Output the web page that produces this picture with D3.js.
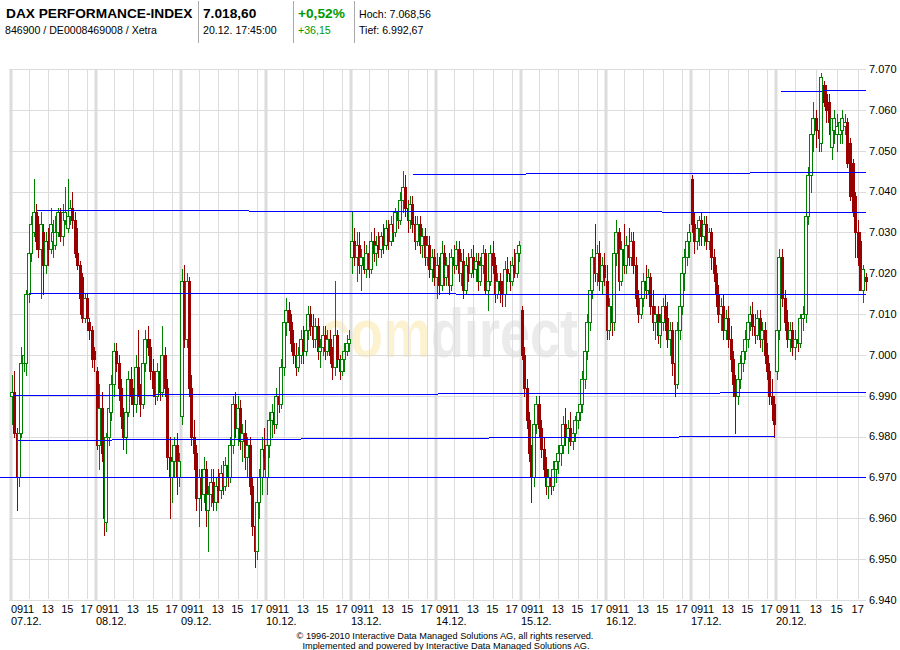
<!DOCTYPE html>
<html><head><meta charset="utf-8">
<script src="https://cdn.jsdelivr.net/npm/d3@7"></script>
<style>
body{margin:0;background:#fff}
svg{display:block}
text{font-family:"Liberation Sans",Arial,sans-serif}
</style>
</head><body>
<svg id="chart" width="900" height="650"></svg>
<script>
// ---------- data ----------
const days = ["07.12.","08.12.","09.12.","10.12.","13.12.","14.12.","15.12.","16.12.","17.12.","20.12."];
const hourLabels = ["09","11","13","15","17"];
const hourOffsets = [0,2,4,6,8];           // hours after 09:00
const yTicks = [6940,6950,6960,6970,6980,6990,7000,7010,7020,7030,7040,7050,7060,7070];
const slotsPerDay = 35;                    // 15-minute candles 09:00-17:45
const hoursPerDay = 8.75;

// candles per day: [open, high, low, close]
const d0712 = [[6990,6995,6983,6991],[6991,6996,6980,6981],[6981,6982,6962,6970],[6970,6983,6968,6981],[6981,7002,6980,6998],[6998,7004,6996,7000],[6998,7016,6995,7015],[7015,7026,7013,7025],[7025,7034,7023,7032],[7030,7043,7029,7035],[7035,7037,7026,7028],[7028,7034,7024,7026],[7026,7035,7014,7032],[7030,7032,7015,7022],[7022,7030,7020,7028],[7028,7031,7022,7026],[7026,7036,7025,7032],[7028,7033,7024,7030],[7027,7034,7026,7030],[7030,7036,7029,7035],[7035,7036,7028,7029],[7029,7037,7027,7035],[7033,7041,7032,7035],[7031,7043,7030,7034],[7034,7038,7032,7036],[7036,7040,7031,7033],[7033,7035,7024,7025],[7025,7031,7021,7022],[7022,7023,7010,7014],[7019,7020,7008,7009],[7009,7015,7008,7014],[7014,7015,7006,7009],[7008,7009,7004,7006],[7006,7007,6997,6999],[7001,7002,6996,6999]];
const d0812 = [[6996,6997,6977,6978],[6978,6993,6972,6987],[6987,6991,6974,6976],[6976,6977,6956,6960],[6959,6981,6957,6980],[6980,6988,6978,6987],[6986,6995,6984,6993],[6993,7003,6990,7001],[7001,7003,6996,6998],[6998,7000,6989,6992],[6992,6994,6982,6985],[6985,6987,6977,6980],[6980,6988,6976,6986],[6986,6996,6985,6994],[6994,6997,6988,6990],[6990,6992,6985,6988],[6988,7000,6986,6997],[6997,7006,6990,6992],[6992,6993,6985,6988],[6988,7000,6987,6998],[6998,7006,6996,7004],[7004,7007,7000,7002],[7002,7004,6994,6996],[6996,6999,6990,6992],[6992,6996,6988,6990],[6990,6998,6989,6996],[6996,6998,6989,6991],[6991,7007,6990,7000],[7000,7002,6990,6992],[6992,6994,6972,6975],[6975,6980,6960,6970],[6970,6976,6964,6974],[6974,6980,6970,6978],[6978,6981,6966,6970],[6970,6976,6968,6974]];
const d0912 = [[6985,7021,6983,7018],[7018,7022,7002,7004],[7004,7020,7002,7018],[7018,7019,6990,6992],[6992,6995,6978,6980],[6980,6984,6972,6976],[6976,6978,6962,6965],[6965,6972,6958,6970],[6970,6972,6962,6966],[6966,6975,6964,6972],[6972,6974,6958,6962],[6962,6968,6952,6966],[6966,6972,6963,6969],[6969,6972,6962,6964],[6964,6970,6962,6968],[6968,6972,6964,6967],[6967,6973,6965,6971],[6971,6974,6966,6968],[6968,6975,6967,6973],[6973,6976,6968,6970],[6970,6980,6969,6978],[6978,6990,6976,6988],[6988,6991,6980,6982],[6982,6990,6978,6987],[6987,6989,6977,6979],[6979,6983,6974,6981],[6981,6984,6972,6975],[6975,6980,6970,6978],[6978,6980,6966,6968],[6968,6970,6956,6958],[6958,6962,6948,6952],[6952,6966,6950,6964],[6964,6972,6960,6970],[6970,6980,6966,6977],[6977,6982,6972,6975]];
const d1012 = [[6970,6980,6966,6978],[6978,6986,6975,6984],[6984,6988,6980,6986],[6986,6989,6981,6983],[6983,6992,6982,6990],[6990,6994,6986,6988],[6988,6999,6987,6997],[6997,7010,6995,7008],[7008,7014,7005,7011],[7011,7013,7006,7008],[7008,7010,7001,7003],[7003,7006,6998,7000],[7000,7003,6995,6997],[6997,7002,6996,7000],[7000,7006,6998,7004],[7004,7007,6998,7001],[7001,7008,7000,7006],[7006,7012,7004,7010],[7010,7012,7005,7007],[7007,7010,7002,7004],[7004,7009,7002,7007],[7007,7009,6999,7001],[7001,7004,6997,7002],[7002,7007,7000,7005],[7005,7007,6999,7001],[7001,7006,7000,7004],[7004,7006,6998,7000],[7000,7002,6994,6997],[6997,7018,6995,7005],[7005,7006,6997,6999],[6999,7000,6994,6996],[6996,7000,6995,6999],[6999,7003,6996,7001],[7001,7005,7000,7003],[7003,7006,7001,7004]];
const d1312 = [[7024,7035,7020,7028],[7028,7031,7022,7024],[7024,7030,7018,7027],[7027,7030,7020,7022],[7022,7026,7016,7024],[7024,7028,7020,7021],[7021,7027,7019,7025],[7025,7028,7019,7021],[7021,7030,7020,7028],[7028,7031,7023,7025],[7025,7029,7022,7027],[7027,7030,7024,7026],[7026,7030,7024,7029],[7029,7032,7025,7027],[7027,7033,7026,7031],[7031,7033,7026,7028],[7028,7034,7027,7032],[7032,7035,7028,7030],[7030,7036,7029,7035],[7035,7038,7031,7033],[7033,7040,7032,7038],[7038,7045,7035,7041],[7041,7044,7034,7036],[7036,7038,7030,7033],[7033,7039,7031,7037],[7037,7039,7030,7032],[7032,7034,7026,7028],[7028,7034,7027,7032],[7032,7034,7025,7027],[7027,7031,7024,7029],[7029,7031,7022,7024],[7024,7029,7022,7027],[7027,7029,7019,7021],[7021,7026,7018,7024],[7024,7026,7017,7019]];
const d1412 = [[7019,7025,7014,7022],[7022,7024,7015,7017],[7017,7028,7016,7025],[7025,7027,7017,7019],[7019,7024,7017,7022],[7022,7025,7015,7017],[7017,7026,7016,7024],[7024,7027,7020,7022],[7022,7028,7021,7026],[7026,7028,7018,7020],[7020,7025,7017,7023],[7023,7026,7014,7016],[7016,7024,7015,7022],[7022,7025,7018,7020],[7020,7026,7019,7024],[7024,7027,7019,7021],[7021,7025,7018,7023],[7023,7025,7016,7018],[7018,7024,7017,7022],[7022,7027,7020,7025],[7025,7026,7015,7016],[7016,7020,7011,7018],[7018,7027,7017,7025],[7025,7028,7020,7022],[7022,7024,7013,7015],[7015,7020,7014,7018],[7018,7020,7013,7016],[7016,7018,7012,7015],[7015,7023,7012,7021],[7021,7024,7018,7020],[7020,7023,7016,7018],[7018,7024,7017,7022],[7022,7026,7019,7020],[7020,7027,7019,7025],[7025,7028,7023,7027]];
const d1512 = [[7011,7012,6999,7000],[7000,7002,6990,6992],[6992,6994,6982,6984],[6984,6986,6974,6976],[6976,6978,6964,6970],[6970,6985,6968,6983],[6983,6990,6981,6988],[6988,6990,6980,6982],[6982,6984,6975,6977],[6977,6980,6970,6972],[6972,6975,6966,6968],[6968,6972,6965,6970],[6970,6972,6966,6968],[6968,6974,6967,6972],[6972,6976,6969,6974],[6974,6978,6971,6976],[6976,6980,6973,6978],[6978,6985,6976,6983],[6983,6987,6978,6980],[6980,6984,6976,6982],[6982,6986,6978,6979],[6979,6983,6977,6981],[6981,6985,6979,6984],[6984,6988,6982,6986],[6986,6990,6984,6988],[6988,6996,6986,6994],[6994,7003,6992,7001],[7001,7010,6999,7008],[7008,7018,7006,7016],[7016,7026,7014,7024],[7024,7032,7018,7020],[7020,7027,7017,7025],[7025,7028,7016,7018],[7018,7024,7015,7022],[7022,7025,7017,7019]];
const d1612 = [[7018,7022,7004,7006],[7006,7014,7004,7012],[7012,7015,7005,7008],[7008,7028,7006,7025],[7025,7033,7022,7030],[7030,7031,7016,7018],[7018,7028,7017,7026],[7026,7032,7020,7022],[7022,7029,7020,7027],[7027,7031,7022,7024],[7024,7030,7022,7028],[7028,7030,7020,7022],[7022,7024,7012,7014],[7014,7016,7008,7010],[7010,7016,7009,7014],[7014,7020,7012,7018],[7018,7022,7014,7016],[7016,7021,7015,7019],[7019,7020,7010,7012],[7012,7016,7006,7008],[7008,7012,7004,7010],[7010,7012,7003,7005],[7005,7010,7002,7008],[7008,7014,7006,7012],[7012,7015,7006,7009],[7009,7013,7002,7004],[7004,7008,7000,7006],[7006,7008,6995,6998],[6998,7000,6990,6993],[6993,7008,6992,7006],[7006,7015,7004,7012],[7012,7022,7010,7020],[7020,7026,7016,7024],[7024,7030,7022,7028],[7028,7032,7024,7030]];
const d1712 = [[7043,7044,7030,7032],[7032,7035,7025,7028],[7028,7033,7026,7031],[7031,7034,7027,7033],[7033,7035,7027,7029],[7029,7034,7027,7032],[7032,7034,7026,7028],[7028,7031,7026,7030],[7030,7031,7021,7024],[7024,7026,7018,7020],[7020,7022,7012,7015],[7015,7017,7008,7010],[7010,7014,7006,7012],[7012,7015,7004,7006],[7006,7011,7004,7009],[7009,7012,7002,7004],[7004,7007,6996,6999],[6999,7001,6990,6993],[6993,6995,6981,6990],[6990,6996,6988,6994],[6994,7000,6992,6998],[6998,7003,6996,7001],[7001,7006,6999,7004],[7004,7010,7002,7008],[7008,7012,7006,7010],[7010,7013,7005,7007],[7007,7010,7003,7005],[7005,7011,7004,7009],[7009,7011,7002,7004],[7004,7008,7001,7006],[7006,7008,6998,7000],[7000,7003,6994,6996],[6996,6998,6988,6990],[6990,6994,6984,6988],[6988,6990,6980,6983]];
const d2012 = [[6996,7010,6994,7006],[7006,7026,7004,7024],[7024,7026,7012,7014],[7014,7016,7006,7008],[7008,7011,7002,7004],[7004,7008,7001,7006],[7006,7008,7000,7002],[7002,7006,6999,7004],[7004,7006,7001,7003],[7003,7010,7002,7009],[7009,7012,7006,7010],[7010,7036,7008,7034],[7034,7046,7032,7044],[7044,7058,7040,7054],[7054,7062,7050,7058],[7058,7060,7051,7055],[7055,7060,7050,7053],[7052,7069,7050,7068],[7066,7067,7061,7062],[7064,7066,7057,7060],[7062,7064,7054,7057],[7051,7058,7048,7058],[7055,7060,7052,7058],[7054,7059,7050,7056],[7054,7058,7052,7057],[7055,7060,7052,7058],[7056,7059,7054,7057],[7057,7058,7046,7047],[7052,7053,7038,7039],[7047,7048,7034,7035],[7039,7040,7024,7030],[7030,7033,7022,7024],[7028,7030,7016,7016],[7016,7022,7013,7021],[7019,7020,7016,7018]];
const allDays = [d0712,d0812,d0912,d1012,d1312,d1412,d1512,d1612,d1712,d2012];

// support / resistance lines: [startSlot, endSlot, startPrice, endPrice]
const levels = [
  [317.1, 350, 7064.5, 7064.8],
  [165.7, 350, 7044.3, 7044.9],
  [10.9, 350, 7035.4, 7034.9],
  [7.6, 350, 7015.1, 7014.8],
  [1.4, 350, 6990.3, 6991.0],
  [3.1, 315, 6979.1, 6980.2],
  [-4.3, 350, 6970.0, 6970.1]
];

// watermark
const wmText = "comdirect";

// header values
const title = "DAX PERFORMANCE-INDEX";
const subtitle = "846900 / DE0008469008 / Xetra";
const lastPrice = "7.018,60";
const lastTime = "20.12. 17:45:00";
const changePct = "+0,52%";
const changeAbs = "+36,15";
const highText = "Hoch: 7.068,56";
const lowText = "Tief: 6.992,67";

// ---------- drawing ----------
const svg = d3.select("#chart");
const green = "#008000", red = "#990000", grid = "#dcdcdc";
const de = d3.formatLocale({decimal:",", thousands:".", grouping:[3], currency:["","€"]});
const fmt = de.format(",d");

// day boundaries (last day is drawn a little wider, as in the original)
const dayDomain = d3.range(days.length + 1).map(i => i * slotsPerDay);
const dayRange = d3.range(days.length).map(i => 10.5 + i * 85).concat([867]);
const x = d3.scaleLinear().domain(dayDomain).range(dayRange);
const y = d3.scaleLinear().domain([6940, 7070]).range([600, 69]);
const plotLeft = 9, plotRight = 866;
const slotsPerHour = slotsPerDay / hoursPerDay;

// watermark: one text, two tints via a hard-stop gradient
const defs = svg.append("defs");
const grad = defs.append("linearGradient").attr("id", "wmGrad")
  .attr("gradientUnits", "userSpaceOnUse").attr("x1", 320).attr("x2", 578).attr("y1", 0).attr("y2", 0);
grad.append("stop").attr("offset", 0.42).attr("stop-color", "#fcf2cf");
grad.append("stop").attr("offset", 0.42).attr("stop-color", "#ebebeb");
svg.append("text").attr("x", 320).attr("y", 357)
  .attr("font-size", 68).attr("font-weight", "bold").attr("fill", "url(#wmGrad)")
  .attr("textLength", 258).attr("lengthAdjust", "spacingAndGlyphs").text(wmText);

// horizontal grid
svg.append("g").selectAll("line").data(yTicks).join("line")
  .attr("x1", plotLeft).attr("x2", plotRight)
  .attr("y1", d => Math.round(y(d)) + 0.5).attr("y2", d => Math.round(y(d)) + 0.5)
  .attr("stroke", grid).attr("stroke-width", 1);

// vertical grid: thin hour lines and thick day lines
const vg = svg.append("g");
days.forEach((d, di) => {
  hourOffsets.forEach((h, hi) => {
    const xp = x(di * slotsPerDay + h * slotsPerHour);
    if (hi === 0) {
      vg.append("rect").attr("x", Math.round(xp) - 1.5).attr("y", 69).attr("width", 3).attr("height", 531).attr("fill", grid);
    } else {
      vg.append("line").attr("x1", Math.round(xp) - 0.5).attr("x2", Math.round(xp) - 0.5)
        .attr("y1", 69).attr("y2", 599).attr("stroke", grid);
    }
  });
});

// candles
const candles = [];
allDays.forEach((arr, di) => arr.forEach((c, i) => candles.push({
  slot: di * slotsPerDay + i + 0.5, o: c[0], h: c[1], l: c[2], c: c[3]
})));
const cg = svg.append("g").attr("shape-rendering", "crispEdges");
candles.forEach(k => {
  const cx = Math.round(x(k.slot));
  const up = k.c >= k.o;
  const col = up ? green : red;
  cg.append("line").attr("x1", cx + 0.5).attr("x2", cx + 0.5)
    .attr("y1", Math.round(y(k.h))).attr("y2", Math.round(y(k.l)) + 1).attr("stroke", col);
  const top = Math.round(y(Math.max(k.o, k.c))), bot = Math.round(y(Math.min(k.o, k.c)));
  if (up) {
    cg.append("rect").attr("x", cx - 1.5).attr("y", top + 0.5)
      .attr("width", 3).attr("height", Math.max(1, bot - top))
      .attr("fill", "#fff").attr("stroke", col);
  } else {
    cg.append("rect").attr("x", cx - 1).attr("y", top)
      .attr("width", 3).attr("height", Math.max(1, bot - top + 1))
      .attr("fill", col);
  }
});

// level lines
svg.append("g").attr("shape-rendering", "crispEdges").selectAll("line").data(levels).join("line")
  .attr("x1", d => Math.max(0, x(d[0]))).attr("x2", d => Math.min(plotRight, x(d[1])))
  .attr("y1", d => Math.round(y(d[2])) + 0.5).attr("y2", d => Math.round(y(d[3])) + 0.5)
  .attr("stroke", "#0000ff").attr("stroke-width", 1);

// y axis labels
svg.append("g").selectAll("text").data(yTicks).join("text")
  .attr("x", 869).attr("y", d => y(d)).attr("dy", "0.35em")
  .attr("font-size", 11).attr("fill", "#000").text(d => fmt(d));

// x axis labels
const xa = svg.append("g").attr("font-size", 11).attr("fill", "#000");
days.forEach((d, di) => {
  const ds = x(di * slotsPerDay);
  hourLabels.forEach((lab, hi) => {
    const xp = x(di * slotsPerDay + hourOffsets[hi] * slotsPerHour);
    if (hi === 0) xa.append("text").attr("x", ds + 0.5).attr("y", 613).text(lab);
    else xa.append("text").attr("x", xp - 1.5).attr("y", 613).attr("text-anchor", "middle").text(lab);
  });
  xa.append("text").attr("x", ds + 0.5).attr("y", 625).text(d);
});

// header
const hd = svg.append("g");
hd.append("text").attr("x", 6).attr("y", 18).attr("font-size", 13.7).attr("font-weight", "bold").text(title);
hd.append("text").attr("x", 5).attr("y", 34).attr("font-size", 10.6).text(subtitle);
hd.append("text").attr("x", 203).attr("y", 18).attr("font-size", 13.7).attr("font-weight", "bold").text(lastPrice);
hd.append("text").attr("x", 203).attr("y", 34).attr("font-size", 10.6).text(lastTime);
hd.append("text").attr("x", 298).attr("y", 18).attr("font-size", 13.7).attr("font-weight", "bold").attr("fill", "#009900").text(changePct);
hd.append("text").attr("x", 298).attr("y", 34).attr("font-size", 10.6).attr("fill", "#009900").text(changeAbs);
hd.append("text").attr("x", 359).attr("y", 18).attr("font-size", 10.6).text(highText);
hd.append("text").attr("x", 359).attr("y", 34).attr("font-size", 10.6).text(lowText);
[198.5, 293.5, 354.5].forEach(xx => hd.append("line").attr("x1", xx).attr("x2", xx).attr("y1", 1).attr("y2", 43).attr("stroke", "#aaaaaa"));

// footer
svg.append("text").attr("x", 445).attr("y", 638.5).attr("text-anchor", "middle").attr("font-size", 9.2)
  .text("© 1996-2010 Interactive Data Managed Solutions AG, all rights reserved.");
svg.append("text").attr("x", 446).attr("y", 649).attr("text-anchor", "middle").attr("font-size", 9.2)
  .text("Implemented and powered by Interactive Data Managed Solutions AG.");
</script>
</body></html>
